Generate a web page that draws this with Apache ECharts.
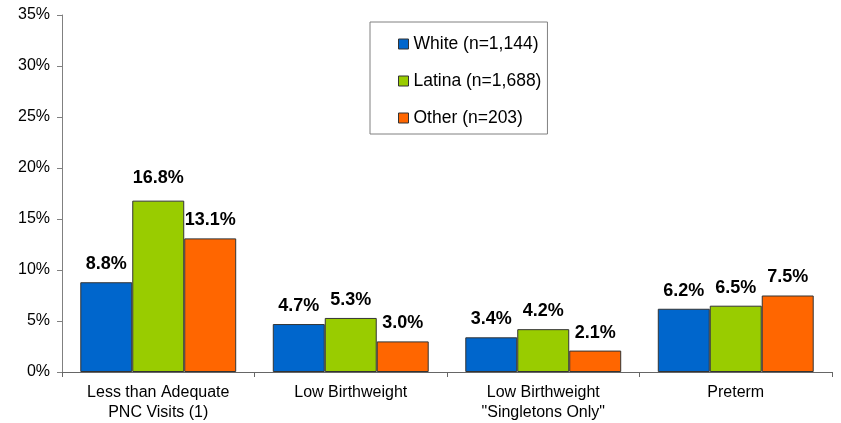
<!DOCTYPE html>
<html>
<head>
<meta charset="utf-8">
<script src="https://cdn.jsdelivr.net/npm/echarts@6/dist/echarts.min.js"></script>
<style>
html,body{margin:0;padding:0;background:#fff;}
#chart{width:841px;height:423px;}
</style>
</head>
<body>
<div id="chart"></div>
<script>
const categories = ["Less than Adequate\nPNC Visits (1)", "Low Birthweight", "Low Birthweight\n\"Singletons Only\"", "Preterm"];
const seriesNames = ["White (n=1,144)", "Latina (n=1,688)", "Other (n=203)"];
const whiteValues = [8.8, 4.7, 3.4, 6.2];
const latinaValues = [16.8, 5.3, 4.2, 6.5];
const otherValues = [13.1, 3.0, 2.1, 7.5];
const colors = ["#0066CC", "#99CC00", "#FF6600"];
const yTicks = { min: 0, max: 35, interval: 5 };

const FONT = "'Liberation Sans', Arial, sans-serif";

function makeSeries(name, values, color) {
  return {
    name: name,
    type: 'bar',
    barGap: '0%',
    barCategoryGap: '19%',
    itemStyle: { color: color, borderColor: '#333', borderWidth: 1 },
    label: {
      show: true,
      position: 'top',
      distance: 9,
      fontFamily: FONT,
      fontSize: 18,
      fontWeight: 'bold',
      color: '#000',
      formatter: p => p.value.toFixed(1) + '%'
    },
    data: values.map(v => v === 16.8 ? { value: v, label: { offset: [0, -5] } } : v)
  };
}

const chart = echarts.init(document.getElementById('chart'));
chart.setOption({
  animation: false,
  backgroundColor: '#fff',
  textStyle: { fontFamily: FONT },
  grid: { left: 62, right: 9, top: 15, bottom: 50, containLabel: false },
  legend: {
    orient: 'vertical',
    left: 370,
    top: 22,
    padding: [13, 6, 7, 28],
    itemGap: 19,
    itemWidth: 10,
    itemHeight: 10,
    icon: 'rect',
    borderColor: '#808080',
    borderWidth: 1,
    textStyle: { fontFamily: FONT, fontSize: 17.5, color: '#000' },
    itemStyle: { borderColor: '#333', borderWidth: 1 },
    data: seriesNames
  },
  xAxis: {
    type: 'category',
    data: categories,
    axisLine: { lineStyle: { color: '#666', width: 1 } },
    axisTick: { show: true, length: 5, lineStyle: { color: '#666' } },
    axisLabel: { fontFamily: FONT, fontSize: 16, color: '#000', margin: 11, lineHeight: 20, interval: 0 }
  },
  yAxis: {
    type: 'value',
    min: yTicks.min,
    max: yTicks.max,
    interval: yTicks.interval,
    splitLine: { show: false },
    axisLine: { show: true, lineStyle: { color: '#808080', width: 1 } },
    axisTick: { show: true, length: 5, lineStyle: { color: '#808080' } },
    axisLabel: { fontFamily: FONT, fontSize: 16, color: '#000', margin: 12, formatter: '{value}%' }
  },
  series: [
    makeSeries(seriesNames[0], whiteValues, colors[0]),
    makeSeries(seriesNames[1], latinaValues, colors[1]),
    makeSeries(seriesNames[2], otherValues, colors[2])
  ]
});
</script>
</body>
</html>
